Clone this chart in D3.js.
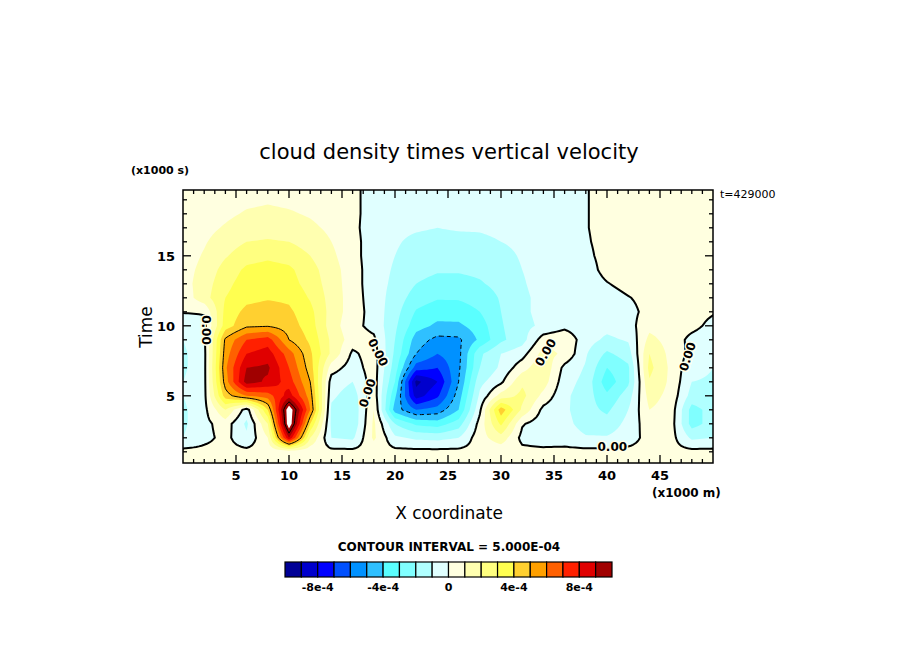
<!DOCTYPE html>
<html><head><meta charset="utf-8">
<script src="https://cdn.jsdelivr.net/npm/d3@7"></script>
<style>body{margin:0;background:#fff}svg{display:block}text{font-family:"DejaVu Sans",sans-serif}</style>
</head><body><svg id="c" width="904" height="654"></svg>
<script>
// x coordinate (x1000 m) of grid columns, time (x1000 s) of grid rows
const xCoords = d3.range(0, 51, 2);
const yCoords = d3.range(0, 21, 1);
// field values in units of 1e-4, rows from y=0 upward
const fieldRows = [
/*0*/ [0.3,0.3,0.3,0.3,0.3,0.3,0.3,0.3,0.3,0.3,0.3,0.3,0.3,0.3,0.3,0.3,0.3,0.3,0.3,0.3,0.3,0.3,0.3,0.3,0.3,0.3],
/*1*/ [0.3,0.3,0.3,0.3,0.3,0.3,0.3,0.3,0.3,0.3,0.3,0.3,0.3,0.3,0.3,0.3,0.3,0.3,0.3,0.3,0.3,0.3,0.3,0.3,0.3,0.3],
/*2*/ [-1.0,-0.3,0.3,-0.8,1.0,9,2.0,-1.0,-1.2,1.2,-0.8,-1.2,-1.3,-1.0,0.6,1.6,-0.3,-0.6,-0.5,-0.9,-0.9,-0.5,0.4,0.4,-1.2,-1.0],
/*3*/ [-1.2,-0.3,0.5,-1.2,2.0,12,4.0,-1.2,-1.8,1.2,-2.0,-3.2,-3.5,-2.5,0.4,3.2,0.1,-0.6,-0.7,-1.4,-1.6,-0.7,0.6,0.5,-2.4,-1.6],
/*4*/ [-1.2,-0.3,2.0,-0.5,4.0,12,6.0,-1.2,-1.8,1.0,-4.5,-6.0,-5.6,-4.0,-0.2,4.6,1.8,-0.3,-0.8,-1.6,-2.2,-1.0,1.0,0.6,-2.4,-1.6],
/*5*/ [-1.0,-0.3,4.5,6.0,6.5,8.5,5.5,-0.8,-1.5,0.6,-3.8,-8.5,-7.2,-4.5,-0.8,1.4,2.3,0.7,-0.8,-1.5,-2.8,-1.5,1.4,0.7,-1.4,-1.3],
/*6*/ [-1.0,-0.3,5.5,9.5,8.8,7.5,5.0,-0.5,-1.0,0.5,-3.0,-9.3,-8.0,-5.0,-1.3,-0.2,1.8,1.5,-0.6,-1.3,-3.6,-2.2,1.9,0.8,-1.0,-1.1],
/*7*/ [-1.2,-0.3,5.8,9.0,9.2,7.0,4.5,0.5,-0.5,0.5,-2.5,-6.5,-7.0,-5.2,-2.0,-0.8,0.6,1.8,-0.3,-1.1,-3.0,-2.2,2.3,0.8,-0.7,-1.0],
/*8*/ [-1.2,-0.3,5.5,8.0,8.5,6.5,4.2,1.8,-0.2,0.5,-2.2,-5.0,-6.0,-5.3,-2.2,-1.0,-0.4,1.4,0.8,-0.9,-2.2,-1.5,2.0,0.7,-0.3,-0.9],
/*9*/ [-1.0,-0.2,5.2,7.0,7.5,5.0,3.8,1.8,0.5,0.2,-2.0,-4.5,-5.3,-5.2,-3.8,-2.2,-1.4,0.5,0.8,-0.6,-1.2,-0.9,1.3,0.6,-0.3,-0.6],
/*10*/[-1.0,-0.3,3.5,4.8,4.9,4.5,3.5,1.5,0.3,-0.3,-1.8,-3.6,-4.2,-4.2,-3.5,-2.1,-1.3,-0.8,-0.3,-0.6,-0.7,-0.4,0.7,0.6,0.3,-0.3],
/*11*/[0.1,0.1,3.3,4.3,4.5,4.2,3.3,1.6,0.5,-0.4,-1.6,-3.1,-3.6,-3.5,-3.0,-2.0,-1.2,-0.7,-0.5,-0.5,-0.5,-0.3,0.3,0.4,0.4,0.1],
/*12*/[0.4,1.6,3.0,3.7,3.9,3.8,2.9,1.6,0.5,-0.5,-1.4,-2.5,-2.9,-2.9,-2.6,-1.9,-1.2,-0.7,-0.5,-0.5,-0.4,-0.05,0.3,0.3,0.3,0.3],
/*13*/[0.6,1.5,2.7,3.5,3.7,3.4,2.6,1.5,0.5,-0.6,-1.2,-2.0,-2.3,-2.3,-2.1,-1.7,-1.1,-0.6,-0.5,-0.5,-0.05,0.3,0.3,0.3,0.3,0.3],
/*14*/[0.6,1.3,2.4,3.2,3.4,3.2,2.4,1.4,0.5,-0.6,-1.1,-1.7,-1.9,-1.9,-1.8,-1.5,-1.0,-0.6,-0.5,-0.4,0.3,0.3,0.3,0.3,0.3,0.3],
/*15*/[0.5,1.1,1.9,2.6,2.8,2.6,2.0,1.2,0.4,-0.6,-1.0,-1.4,-1.6,-1.6,-1.5,-1.3,-0.9,-0.6,-0.5,-0.2,0.3,0.3,0.3,0.3,0.3,0.3],
/*16*/[0.5,0.9,1.5,2.0,2.1,2.0,1.6,1.0,0.4,-0.6,-0.9,-1.2,-1.3,-1.3,-1.2,-1.0,-0.8,-0.5,-0.5,-0.1,0.3,0.3,0.3,0.3,0.3,0.3],
/*17*/[0.4,0.7,1.1,1.5,1.6,1.5,1.2,0.8,0.3,-0.6,-0.8,-0.9,-1.0,-0.9,-0.9,-0.8,-0.6,-0.5,-0.5,-0.05,0.3,0.3,0.3,0.3,0.3,0.3],
/*18*/[0.3,0.5,0.8,1.1,1.2,1.1,0.9,0.6,0.3,-0.5,-0.7,-0.8,-0.8,-0.8,-0.7,-0.6,-0.5,-0.5,-0.5,-0.05,0.3,0.3,0.3,0.3,0.3,0.3],
/*19*/[0.3,0.4,0.6,0.8,0.9,0.8,0.7,0.5,0.3,-0.5,-0.6,-0.6,-0.6,-0.6,-0.6,-0.5,-0.5,-0.5,-0.5,-0.05,0.3,0.3,0.3,0.3,0.3,0.3],
/*20*/[0.3,0.3,0.4,0.5,0.6,0.6,0.5,0.4,0.3,-0.5,-0.5,-0.5,-0.5,-0.5,-0.5,-0.5,-0.5,-0.5,-0.5,-0.05,0.3,0.3,0.3,0.3,0.3,0.3]
];
const shadeColors = ["#000096","#0000cd","#0000ff","#0050ff","#0091ff","#2fc0ff","#5affff","#80ffff","#b0ffff","#e0ffff",
  "#ffffe0","#ffffb0","#ffff80","#ffff50","#ffd030","#ffa000","#ff6000","#ff2000","#e00000","#a00000"];
const shadeLevels = d3.range(-9, 10, 1);   // band lower bounds (1e-4)
const barLabels = ["-8e-4","-4e-4","0","4e-4","8e-4"];
const barLabelValues = [-8,-4,0,4,8];
const xTicks = [5,10,15,20,25,30,35,40,45];
const yTicks = [5,10,15];
const zeroLabels = [[2.2,9.7,90],[18.4,8.1,62],[17.4,5.2,-72],[34.2,8.1,-60],[40.5,1.35,0],[47.6,7.8,-72]];

const svg = d3.select("#c");
const L=183,R=713,T=190,B=463;
const xs = d3.scaleLinear().domain([0,50]).range([L,R]);
const ys = d3.scaleLinear().domain([0.2,19.7]).range([B,T]);

const st = 0.25, nx = Math.round(50/st)+1, ny = Math.round(20/st)+1;
const vals = new Float64Array(nx*ny);
function sample(x,y){
  const fx=x/2, fy=y; const i=Math.min(Math.floor(fx),24), j=Math.min(Math.floor(fy),19);
  const u=fx-i, v=fy-j;
  const a=fieldRows[j][i],b=fieldRows[j][i+1],c=fieldRows[j+1][i],d=fieldRows[j+1][i+1];
  return a*(1-u)*(1-v)+b*u*(1-v)+c*(1-u)*v+d*u*v;
}
for(let j=0;j<ny;j++)for(let i=0;i<nx;i++)vals[j*nx+i]=sample(i*st,j*st);
const proj = d3.geoTransform({point(px,py){this.stream.point(xs((px-0.5)*st), ys((py-0.5)*st));}});
const path = d3.geoPath(proj);
const gen = d3.contours().size([nx,ny]);

svg.append("clipPath").attr("id","pc").append("rect").attr("x",L).attr("y",T).attr("width",R-L).attr("height",B-T);
const g = svg.append("g").attr("clip-path","url(#pc)");
g.append("rect").attr("x",L).attr("y",T).attr("width",R-L).attr("height",B-T).attr("fill",shadeColors[0]);
shadeLevels.forEach((t,k)=>{
  g.append("path").attr("d",path(gen.contour(vals,t))).attr("fill",shadeColors[k+1]);
});
g.append("path").attr("d",path(gen.contour(vals,11))).attr("fill","#fff");
g.append("path").attr("d",path(gen.contour(vals,0))).attr("fill","none").attr("stroke","#000").attr("stroke-width",2);
g.append("path").attr("d",path(gen.contour(vals,5))).attr("fill","none").attr("stroke","#000").attr("stroke-width",1);
g.append("path").attr("d",path(gen.contour(vals,-5))).attr("fill","none").attr("stroke","#000").attr("stroke-width",1).attr("stroke-dasharray","4,3");
g.append("path").attr("d",path(gen.contour(vals,10))).attr("fill","none").attr("stroke","#000").attr("stroke-width",1);

zeroLabels.forEach(([x,y,r])=>{
  svg.append("text").attr("transform",`translate(${xs(x)},${ys(y)}) rotate(${r})`).attr("text-anchor","middle").attr("dy","0.35em")
    .attr("font-size",12).attr("font-weight","bold").attr("stroke","#ffffe8").attr("stroke-width",3).attr("paint-order","stroke").text("0.00");
});

svg.append("rect").attr("x",L).attr("y",T).attr("width",R-L).attr("height",B-T).attr("fill","none").attr("stroke","#000").attr("stroke-width",1.5);
const tk = svg.append("g").attr("stroke","#000").attr("stroke-width",1.3);
d3.range(1,50).forEach(v=>{const len=v%5?4:8;const x=xs(v);
  tk.append("line").attr("x1",x).attr("x2",x).attr("y1",B).attr("y2",B-len);
  tk.append("line").attr("x1",x).attr("x2",x).attr("y1",T).attr("y2",T+len);});
d3.range(1,20).forEach(v=>{const len=v%5?4:8;const y=ys(v);
  tk.append("line").attr("x1",L).attr("x2",L+len).attr("y1",y).attr("y2",y);
  tk.append("line").attr("x1",R).attr("x2",R-len).attr("y1",y).attr("y2",y);});
xTicks.forEach(v=>svg.append("text").attr("x",xs(v)).attr("y",B+17).attr("text-anchor","middle").attr("font-size",13).attr("font-weight","bold").text(v));
yTicks.forEach(v=>svg.append("text").attr("x",L-8).attr("y",ys(v)+5).attr("text-anchor","end").attr("font-size",13).attr("font-weight","bold").text(v));

svg.append("text").attr("x",449).attr("y",159).attr("text-anchor","middle").attr("font-size",21).text("cloud density times vertical velocity");
svg.append("text").attr("x",131).attr("y",174).attr("font-size",11).attr("font-weight","bold").text("(x1000 s)");
svg.append("text").attr("x",720).attr("y",198).attr("font-size",11).text("t=429000");
svg.append("text").attr("x",652).attr("y",497).attr("font-size",12).attr("font-weight","bold").text("(x1000 m)");
svg.append("text").attr("x",449).attr("y",519).attr("text-anchor","middle").attr("font-size",17).text("X coordinate");
svg.append("text").attr("transform","translate(152,327) rotate(-90)").attr("text-anchor","middle").attr("font-size",17).text("Time");

svg.append("text").attr("x",449).attr("y",551).attr("text-anchor","middle").attr("font-size",12).attr("font-weight","bold").text("CONTOUR INTERVAL = 5.000E-04");
const cb = d3.scaleLinear().domain([-10,10]).range([285,612]);
shadeColors.forEach((c,i)=>svg.append("rect").attr("x",cb(-10+i)).attr("y",562).attr("width",cb(-9)-cb(-10)).attr("height",15).attr("fill",c).attr("stroke","#000").attr("stroke-width",1.2));
barLabelValues.forEach((v,i)=>svg.append("text").attr("x",cb(v)).attr("y",591).attr("text-anchor","middle").attr("font-size",11).attr("font-weight","bold").text(barLabels[i]));
</script></body></html>
